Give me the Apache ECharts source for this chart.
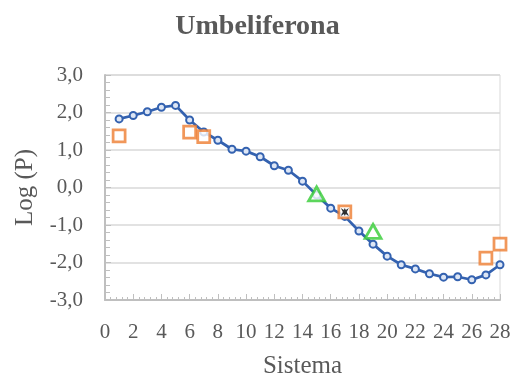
<!DOCTYPE html>
<html>
<head>
<meta charset="utf-8">
<script src="https://cdn.jsdelivr.net/npm/echarts@6/dist/echarts.min.js"></script>
<style>html,body{margin:0;padding:0;background:#fff}#c{width:515px;height:379px}</style>
</head>
<body>
<div id="c"></div>
<script>
var titleText = 'Umbeliferona';
var xTitle = 'Sistema';
var yTitle = 'Log (P)';
var sistema = [1,2,3,4,5,6,7,8,9,10,11,12,13,14,15,16,17,18,19,20,21,22,23,24,25,26,27,28];
var logP = [1.83,1.92,2.02,2.14,2.19,1.80,1.48,1.26,1.02,0.97,0.82,0.58,0.46,0.17,-0.20,-0.55,-0.77,-1.16,-1.51,-1.83,-2.06,-2.17,-2.30,-2.39,-2.38,-2.46,-2.33,-2.06];
var orangeX = [1,6,7,17,27,28];
var orangeY = [1.38,1.48,1.36,-0.65,-1.88,-1.51];
var greenX = [15,19];
var greenY = [-0.17,-1.17];
var blackX = [17];
var blackY = [-0.65];

function pairs(xs, ys){ return xs.map(function(x,i){return [x, ys[i]];}); }

var font = '"Liberation Serif","Times New Roman",serif';
var chart = echarts.init(document.getElementById('c'), null, {renderer:'canvas'});
chart.setOption({
  animation:false,
  backgroundColor:'#fff',
  title:{text:titleText, left:'center', top:8, textStyle:{fontFamily:font, fontSize:28, fontWeight:'bold', color:'#595959'}},
  grid:{left:105, right:15, top:75, bottom:79, show:true, borderColor:'#d9d9d9', borderWidth:1,
    containLabel:false, outerBoundsMode:'none'},
  xAxis:{type:'value', min:0, max:28, interval:2,
    name:xTitle, nameLocation:'middle', nameGap:54, nameTextStyle:{fontFamily:font, fontSize:25, color:'#595959'},
    axisLine:{show:true, onZero:false, lineStyle:{color:'#bfbfbf', width:2}},
    axisTick:{show:true, inside:true, length:6, lineStyle:{color:'#bfbfbf'}},
    minorTick:{show:true, splitNumber:5, length:3, lineStyle:{color:'#bfbfbf'}},
    splitLine:{show:false},
    axisLabel:{fontFamily:font, fontSize:21, color:'#595959', margin:22}
  },
  yAxis:{type:'value', min:-3, max:3, interval:1,
    name:yTitle, nameLocation:'middle', nameGap:67, nameRotate:90, nameTextStyle:{fontFamily:font, fontSize:25, color:'#595959'},
    axisLine:{show:true, onZero:false, lineStyle:{color:'#bfbfbf', width:2}},
    axisTick:{show:true, inside:true, length:6, lineStyle:{color:'#bfbfbf'}},
    minorTick:{show:true, splitNumber:5, length:5, lineStyle:{color:'#bfbfbf'}},
    splitLine:{show:true, lineStyle:{color:'#d9d9d9', width:1.5}},
    axisLabel:{fontFamily:font, fontSize:21, color:'#595959', margin:22,
      formatter:function(v){return v.toFixed(1).replace('.',',');}}
  },
  series:[
    {type:'line', data:pairs(sistema, logP), symbol:'circle', symbolSize:7, showAllSymbol:true,
      lineStyle:{color:'#3462b0', width:2.75},
      itemStyle:{color:'#dde6f5', borderColor:'#3462b0', borderWidth:2}, z:2},
    {type:'scatter', data:pairs(orangeX, orangeY), symbol:'rect', symbolSize:12,
      itemStyle:{color:'#ffffff', borderColor:'#ed7d31', borderWidth:2.75}, z:3},
    {type:'scatter', data:pairs(greenX, greenY), symbol:'triangle', symbolSize:[16,14],
      itemStyle:{color:'#ffffff', borderColor:'#33cc33', borderWidth:2.75}, z:4},
    {type:'scatter', data:pairs(blackX, blackY), symbol:'path://M0,0 L3,2 L4,0 L5,2 L8,0 L6,4 L8,8 L5,6 L4,8 L3,6 L0,8 L2,4 Z', symbolSize:8,
      itemStyle:{color:'#000000'}, z:5}
  ]
});
</script>
</body>
</html>
